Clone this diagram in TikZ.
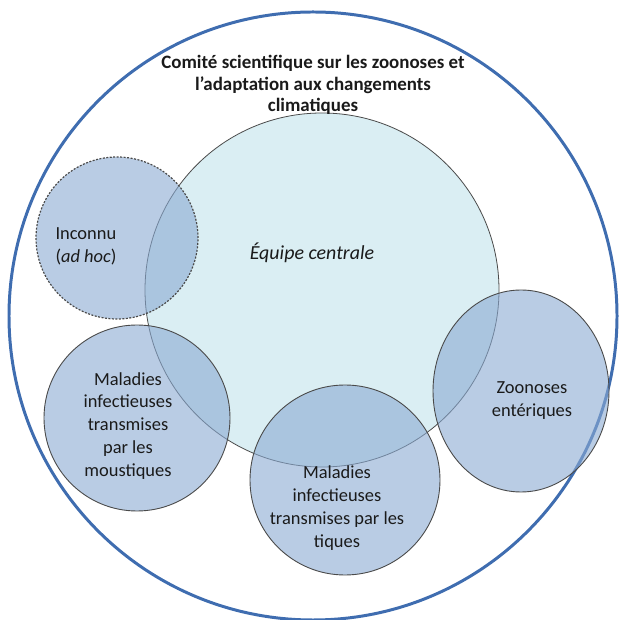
\documentclass[tikz,border=0pt]{standalone}
\usepackage{fontspec}
\setmainfont{Carlito}
\usepackage{xcolor}
\usepackage{tikz}
\definecolor{ringblue}{HTML}{3F6DB0}
\definecolor{corefill}{HTML}{DAEEF3}
\definecolor{bubblefill}{HTML}{8AAAD2}
\definecolor{edge}{HTML}{4A4A4A}
\definecolor{ink}{HTML}{1A1A1A}
\tikzset{
  ring/.style={draw=ringblue, line width=3pt},
  core/.style={draw=edge, fill=corefill, line width=0.8pt},
  bubble/.style={draw=edge, fill=bubblefill, fill opacity=0.6, line width=0.9pt},
  unknown/.style={bubble, dash pattern=on 2pt off 1.5pt, line width=1.2pt},
  lab/.style={text=ink, align=center, font=\fontsize{18.5}{23}\selectfont},
  labi/.style={lab, font=\fontsize{20}{23}\selectfont\itshape},
  ttl/.style={lab, font=\fontsize{19}{21.5}\selectfont\bfseries},
}

\begin{document}
\begin{tikzpicture}[x=1bp,y=1bp]
  \useasboundingbox (0,0) rectangle (620,620);
  \coordinate (O) at (313,304);
  \coordinate (C) at (322,330);
  \coordinate (U) at (117,382);
  \coordinate (M) at (137,202);
  \coordinate (T) at (345,140);
  \coordinate (Z) at (521,229);

  \draw[ring] (O) circle (304);
  \draw[core] (C) circle (177);

  % groupes autour de l'equipe
  \draw[unknown] (U) circle (81);
  \draw[bubble] (M) circle (93);
  \draw[bubble] (T) circle (95);
  \draw[bubble] (Z) ellipse [x radius=88, y radius=101];

  \node[ttl] (comite) at (313,535) {Comité scientifique sur les zoonoses et\\l'adaptation aux changements\\climatiques};
  \node[labi] (centrale) at (312,367) {Équipe centrale};
  \node[lab, align=left, anchor=west] (inconnu) at (52,374) {Inconnu\\(\textit{ad hoc})};
  \node[lab] (moustiques) at (128,194) {Maladies\\infectieuses\\transmises\\par les\\moustiques};
  \node[lab] (tiques) at (337,112) {Maladies\\infectieuses\\transmises par les\\tiques};
  \node[lab] (enteriques) at (532,219) {Zoonoses\\entériques};
\end{tikzpicture}
\end{document}
